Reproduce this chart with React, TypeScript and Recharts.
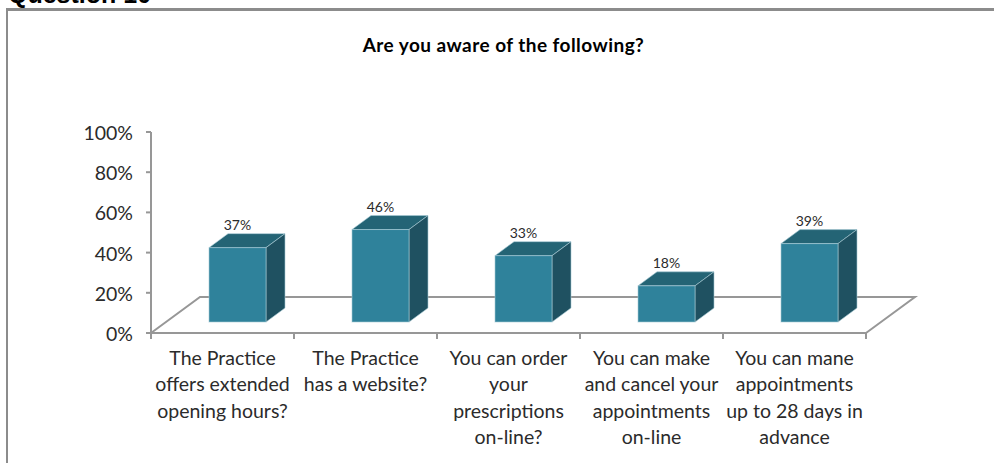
import { Bar, BarChart, LabelList, XAxis, YAxis, usePlotArea } from "recharts";

const categories = [
  ["The Practice", "offers extended", "opening hours?"],
  ["The Practice", "has a website?"],
  ["You can order", "your", "prescriptions", "on-line?"],
  ["You can make", "and cancel your", "appointments", "on-line"],
  ["You can mane", "appointments", "up to 28 days in", "advance"],
];
const aware = [37, 46, 33, 18, 39];
const yTicks = [0, 20, 40, 60, 80, 100];

const data = categories.map((lines, i) => ({ name: lines.join(" "), aware: aware[i] }));

const FONT = "Lato, sans-serif";
const AXIS = "#979797";
// 3d look: how far the bars sit off the axis, and how deep the box goes
const SHIFT_X = 15;
const SHIFT_Y = 11;
const DEPTH_X = 19;
const DEPTH_Y = 14;

function Floor() {
  const plot = usePlotArea();
  if (!plot) return null;
  const { x, y, width, height } = plot;
  const bottom = y + height;
  const band = width / categories.length;
  return (
    <g fill="none" stroke={AXIS} strokeWidth={2}>
      <polyline points={`${x},${bottom} ${x + 49},${bottom - 36} ${x + width + 49},${bottom - 36} ${x + width},${bottom}`} />
      <line x1={x - 5} y1={bottom} x2={x + width} y2={bottom} />
      {categories.map((_, i) => (
        <line key={i} x1={x + band * (i + 1)} y1={bottom} x2={x + band * (i + 1)} y2={bottom + 6} />
      ))}
      <line x1={x} y1={bottom} x2={x} y2={bottom + 6} />
    </g>
  );
}

function Box(props: any) {
  const x = props.x + SHIFT_X;
  const y = props.y - SHIFT_Y;
  const { width, height } = props;
  const r = x + width;
  const b = y + height;
  return (
    <g stroke="#a9cbd6" strokeWidth={1} strokeOpacity={0.6}>
      <polygon fill="#246475" points={`${x},${y} ${x + DEPTH_X},${y - DEPTH_Y} ${r + DEPTH_X},${y - DEPTH_Y} ${r},${y}`} />
      <polygon fill="#1f5161" points={`${r},${y} ${r + DEPTH_X},${y - DEPTH_Y} ${r + DEPTH_X},${b - DEPTH_Y} ${r},${b}`} />
      <rect x={x} y={y} width={width} height={height} fill="#2f829b" />
    </g>
  );
}

function CategoryTick({ x, payload, index }: any) {
  const lines = categories[index] ?? [payload.value];
  return (
    <text textAnchor="middle" fontFamily={FONT} fontSize={19.5} fill="#2b2b2b">
      {lines.map((line, i) => (
        <tspan key={i} x={x} y={365 + i * 26.3}>
          {line}
        </tspan>
      ))}
    </text>
  );
}

function ValueLabel({ x, y, width, value }: any) {
  return (
    <text x={x + width / 2 + SHIFT_X} y={y - SHIFT_Y - 18} textAnchor="middle" fontFamily={FONT} fontSize={14} fill="#2b2b2b">
      {value}%
    </text>
  );
}

export default function App() {
  return (
    <div style={{ position: "absolute", left: 0, top: 0, width: 994, height: 463, overflow: "hidden", background: "#fff" }}>
      <div style={{ position: "absolute", left: 6, top: 8, width: 1000, height: 470, borderTop: "3px solid #8c8c8c", borderLeft: "2px solid #8c8c8c" }} />
      <div style={{ position: "absolute", left: 8, top: -20, fontFamily: "Liberation Sans, sans-serif", fontWeight: 700, fontSize: 25, color: "#000", whiteSpace: "nowrap" }}>
        Question 10
      </div>
      <div style={{ position: "absolute", left: 0, top: 33, width: 1007, textAlign: "center", fontFamily: FONT, fontWeight: 700, fontSize: 19, letterSpacing: 0.45, color: "#000" }}>
        Are you aware of the following?
      </div>
      <div style={{ position: "absolute", left: 0, top: 0 }}>
        <BarChart width={994} height={463} data={data} barSize={57} margin={{ left: 0, top: 132, right: 128, bottom: 0 }}>
          <XAxis dataKey="name" interval={0} height={130} axisLine={false} tickLine={false} tick={<CategoryTick />} />
          <YAxis
            domain={[0, 100]}
            ticks={yTicks}
            width={151}
            tickFormatter={(v) => `${v}%`}
            stroke={AXIS}
            strokeWidth={2}
            tick={{ fontFamily: FONT, fontSize: 19.5, fill: "#2b2b2b", dy: 1 }}
            tickSize={5}
            tickMargin={13}
          />
          <Floor />
          <Bar dataKey="aware" isAnimationActive={false} shape={<Box />}>
            <LabelList dataKey="aware" content={<ValueLabel />} />
          </Bar>
        </BarChart>
      </div>
    </div>
  );
}
